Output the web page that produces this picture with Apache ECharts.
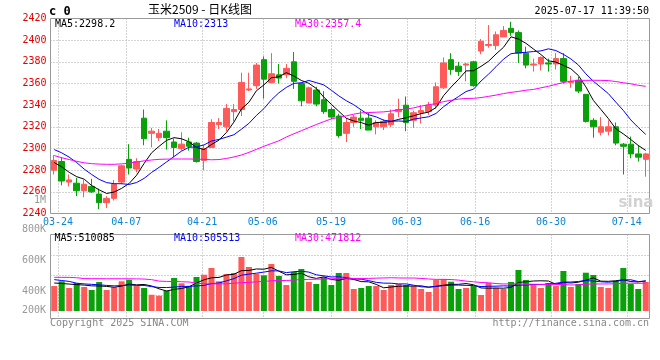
<!DOCTYPE html>
<html><head><meta charset="utf-8">
<script src="https://cdn.jsdelivr.net/npm/echarts@6/dist/echarts.min.js"></script>
<style>html,body{margin:0;padding:0;background:#fff}#c{width:660px;height:360px}</style>
</head><body><div id="c"></div>
<script>
// ---------- DATA ----------
const dates = [
'03-21','03-24','03-25','03-26','03-27','03-28','03-31','04-01','04-02','04-03',
'04-07','04-08','04-09','04-10','04-11','04-14','04-15','04-16','04-17','04-18',
'04-21','04-22','04-23','04-24','04-25','04-28','04-29','04-30','05-06','05-07',
'05-08','05-09','05-12','05-13','05-14','05-15','05-16','05-19','05-20','05-21',
'05-22','05-23','05-26','05-27','05-28','05-29','05-30','06-03','06-04','06-05',
'06-06','06-09','06-10','06-11','06-12','06-13','06-16','06-17','06-18','06-19',
'06-20','06-23','06-24','06-25','06-26','06-27','06-30','07-01','07-02','07-03',
'07-04','07-07','07-08','07-09','07-10','07-11','07-14','07-15','07-16','07-17'];
const labeledDates = ['03-24','04-07','04-21','05-06','05-19','06-03','06-16','06-30','07-14'];

const opens = [
2280,2288,2269,2268,2261,2265,2258,2250,2254,2269,
2290,2281,2328,2314,2310,2316,2306,2300,2306,2305,
2289,2301,2322,2320,2334,2336,2354,2358,2382,2361,
2368,2368,2380,2360,2342,2354,2345,2336,2330,2314,
2324,2328,2328,2320,2320,2322,2334,2340,2326,2333,
2334,2340,2356,2382,2376,2377,2380,2390,2395,2395,
2403,2411,2407,2388,2377,2378,2379,2378,2383,2361,
2363,2350,2326,2315,2316,2320,2304,2304,2295,2290];
const closes = [
2289,2270,2271,2261,2267,2260,2250,2254,2267,2284,
2282,2288,2309,2316,2314,2310,2301,2304,2302,2288,
2300,2324,2324,2337,2336,2361,2355,2377,2364,2369,
2365,2374,2362,2344,2356,2341,2334,2329,2312,2324,
2329,2326,2317,2324,2325,2332,2336,2324,2333,2335,
2340,2357,2379,2373,2371,2378,2358,2399,2396,2405,
2409,2407,2388,2377,2378,2384,2378,2383,2362,2362,
2353,2325,2320,2320,2320,2305,2302,2295,2292,2295];
const lows = [
2276,2266,2265,2256,2255,2259,2244,2245,2252,2267,
2276,2278,2303,2301,2307,2299,2292,2298,2298,2287,
2280,2301,2318,2316,2325,2330,2353,2355,2346,2360,
2360,2365,2355,2339,2342,2339,2332,2327,2310,2306,
2320,2318,2317,2313,2317,2320,2329,2316,2319,2323,
2331,2337,2355,2368,2367,2362,2357,2387,2393,2391,
2403,2404,2379,2374,2371,2372,2371,2373,2360,2356,
2351,2324,2310,2312,2312,2303,2276,2291,2288,2274];
const highs = [
2294,2292,2276,2273,2271,2272,2263,2256,2271,2285,
2304,2291,2336,2319,2318,2326,2309,2315,2310,2306,
2303,2327,2328,2341,2341,2370,2370,2379,2385,2388,
2378,2378,2389,2361,2357,2357,2353,2338,2332,2328,
2331,2335,2333,2326,2327,2336,2346,2348,2335,2340,
2343,2361,2384,2388,2380,2379,2381,2401,2414,2408,
2413,2417,2409,2394,2383,2385,2383,2388,2388,2367,
2366,2350,2328,2329,2326,2324,2305,2311,2303,2296];

const ma5 = [
2287,2283,2278,2274,2271.7,2265.8,2261.8,2258.5,2259.8,2263.2,
2267.7,2275.3,2286.2,2296.0,2302.0,2307.5,2310.0,2309.0,2306.2,2300.9,
2299.0,2303.7,2307.7,2314.8,2324.4,2336.5,2342.7,2353.3,2358.7,2365.3,
2366.2,2370.0,2366.9,2362.8,2360.2,2355.4,2347.4,2340.8,2334.4,2327.9,
2325.4,2323.9,2321.5,2324.0,2324.2,2324.9,2326.9,2328.4,2330.2,2332.2,
2333.6,2337.8,2348.8,2356.7,2363.8,2371.6,2371.8,2375.8,2380.5,2387.2,
2393.4,2403.1,2401.0,2397.1,2391.8,2386.7,2380.9,2379.8,2376.7,2373.6,
2367.4,2356.9,2344.4,2336.1,2327.7,2318.2,2313.5,2308.3,2302.8,2298.2];
const ma10 = [
2299,2296,2292,2287,2281,2276,2271.5,2268.5,2267.5,2267.5,
2266.8,2268.6,2272.4,2277.9,2282.6,2287.6,2292.6,2297.6,2301.1,2301.5,
2303.3,2306.9,2308.4,2310.5,2312.7,2317.8,2323.2,2330.5,2336.8,2344.9,
2351.4,2356.4,2360.1,2360.7,2362.8,2360.8,2358.7,2353.8,2348.6,2344.1,
2340.4,2335.6,2331.1,2329.2,2326.1,2325.2,2325.4,2325.0,2327.1,2328.2,
2329.3,2332.4,2338.6,2343.5,2348.0,2352.6,2354.8,2362.3,2368.6,2375.5,
2382.5,2387.5,2388.4,2388.8,2389.5,2390.1,2392.0,2390.4,2386.9,2382.7,
2377.1,2368.9,2362.1,2356.4,2350.7,2342.8,2335.2,2326.4,2319.4,2313];
const ma30 = [
2293.5,2291.5,2289.8,2288.2,2286.8,2286.0,2285.6,2285.4,2285.4,2285.8,
2286.5,2287.5,2288.6,2289.4,2290.0,2290.2,2290.3,2290.3,2290.3,2290.2,
2290.0,2289.6,2289.8,2290.8,2292.2,2294.0,2296.4,2299.2,2302.0,2304.6,
2307.1,2310.6,2313.6,2316.4,2319.3,2322.1,2324.8,2327.3,2328.8,2330.1,
2331.7,2332.9,2333.2,2333.5,2333.8,2334.6,2335.8,2336.4,2337.5,2339.1,
2340.4,2341.4,2343.3,2344.5,2345.6,2346.2,2346.3,2347.0,2348.1,2349.3,
2350.7,2351.8,2352.7,2353.8,2354.5,2356.0,2357.4,2359.2,2360.9,2362.1,
2362.9,2362.9,2363.0,2362.9,2362.7,2361.8,2360.7,2359.7,2358.3,2357.4];

const volumes = [
422000,502000,389000,473000,406000,355000,490000,355000,401000,502000,
529000,422000,389000,275000,259000,343000,558000,468000,422000,575000,
613000,727000,502000,625000,642000,913000,744000,630000,603000,794000,
592000,439000,659000,710000,490000,456000,570000,439000,642000,642000,
372000,389000,422000,422000,355000,439000,456000,439000,422000,372000,
321000,524000,541000,495000,372000,389000,422000,270000,473000,389000,
372000,490000,693000,524000,456000,389000,473000,422000,676000,406000,
456000,647000,608000,406000,389000,507000,727000,456000,372000,490000];
const volMa5 = [
473000,465000,455000,445000,438400,425000,422600,415800,401400,420600,
455400,441800,448600,423400,374800,337600,364800,380600,410000,473200,
527200,561000,567800,608400,621800,681800,685200,710800,706400,736800,
672600,611600,617400,638800,578000,550800,577000,533000,519400,549800,
533000,496800,493400,449400,392000,405400,418800,422200,422200,425600,
402000,415600,436000,450600,450600,464200,443800,389600,385200,388600,
385200,398800,483400,493600,507000,510400,507000,452800,483200,473200,
486600,521400,558600,504600,501200,511400,527400,497000,490200,510085];
const volMa10 = [
530000,515000,500000,470000,458000,450000,443000,432000,425000,429500,
440200,432200,432200,412400,397700,396500,403300,414600,416700,424000,
432400,462900,474200,509200,547500,604500,623100,639300,657400,679300,
677200,648400,664100,672600,657400,611700,594300,575200,579100,563900,
541900,536900,513200,484400,470900,469200,457800,457800,435800,408800,
403700,417200,429100,436400,438100,433100,429700,412800,417900,419600,
424700,421300,436500,439400,447800,447800,452900,468100,488400,490100,
498500,514200,505700,493900,487200,499000,524400,527800,497400,505513];
const volMa30 = [
569000,569000,568000,562000,548000,546000,546000,545000,545000,545000,
544000,543000,540000,530000,505000,500000,498000,495000,490000,470000,
460000,458000,458000,460000,470000,478000,485000,492000,500000,510900,
516600,514500,523500,531400,534200,537600,540200,543000,551100,555700,
550500,549400,550500,555400,558600,561800,558400,557400,557400,550700,
540900,534200,535500,531100,522100,504700,493900,481900,477600,464100,
456800,458500,459600,453400,452300,450000,446800,446200,447400,439500,
442300,450900,457100,456600,457700,460000,469000,469600,467900,471812];

const volTickLabels = ['1M','800K','600K','400K','200K'];
const titleText = '玉米2509 - 日K线图';
const codeText = 'c 0';
const timeText = '2025-07-17 11:39:50';

// ---------- STYLE / LAYOUT ----------
const MONO = '"DejaVu Sans Mono","Liberation Mono",monospace';
const RED = '#ff5a5a', GREEN = '#0aa00a';
const GRIDC = '#aaaaaa', BORDER = '#999999';
const DOT = [1, 2];
const volTickY = [200, 229.3, 260.2, 291.2, 310.7];

function txt(x, y, text, fill, align, size, weight, family, extra) {
  return Object.assign({
    type: 'text', x: x, y: y, silent: true, z: 100,
    style: {
      text: text, fill: fill, align: align, verticalAlign: 'middle',
      font: (weight || 'normal') + ' ' + size + 'px ' + (family || MONO)
    }
  }, extra || {});
}

const showDate = (i, v) => labeledDates.indexOf(v) >= 0;
const last = a => a[a.length - 1];

const graphics = [
  txt(49, 11.5, codeText, '#000', 'left', 12, 'bold'),
  txt(200, 9, titleText, '#000', 'center', 12, 'normal', '"Noto Sans CJK SC",sans-serif'),
  txt(649, 11.5, timeText, '#000', 'right', 10),
  txt(55, 24, 'MA5:' + last(ma5), '#000', 'left', 10),
  txt(174, 24, 'MA10:' + last(ma10), '#0000ff', 'left', 10),
  txt(295, 24, 'MA30:' + last(ma30), '#ff00ff', 'left', 10),
  txt(54.5, 238.5, 'MA5:' + last(volMa5), '#000', 'left', 10),
  txt(174, 238.5, 'MA10:' + last(volMa10), '#0000ff', 'left', 10),
  txt(295, 238.5, 'MA30:' + last(volMa30), '#ff00ff', 'left', 10),
  txt(50, 323, 'Copyright 2025 SINA.COM', '#888', 'left', 10),
  txt(649, 323.5, 'http://finance.sina.com.cn', '#888', 'right', 10),
  txt(636, 203, 'sina', '#d2d2d2', 'center', 15, 'bold', '"DejaVu Sans",sans-serif', {z: 1}),
];
volTickLabels.forEach((t, k) => graphics.push(txt(46, volTickY[k], t, '#999', 'right', 10)));

const chart = echarts.init(document.getElementById('c'), null, {renderer: 'canvas'});
const candleData = dates.map((d, i) => [opens[i], closes[i], lows[i], highs[i]]);
const volData = volumes.map((v, i) => ({value: v, itemStyle: {color: closes[i] >= opens[i] ? RED : GREEN}}));

function maLine(name, data, color, xi, yi) {
  return {name: name, type: 'line', data: data, xAxisIndex: xi, yAxisIndex: yi,
    symbol: 'none', smooth: false, lineStyle: {color: color, width: 1}, z: 5, silent: true};
}

const VOL_PX = 16900; // volume units per pixel
chart.setOption({
  animation: false,
  backgroundColor: '#fff',
  grid: [
    {left: 50.5, top: 18.5, width: 599, height: 195, show: true, borderColor: BORDER, borderWidth: 1, backgroundColor: 'transparent'},
    {left: 50.5, top: 234.5, width: 599, height: 81.2},
    {left: 50.5, top: 234.5, width: 599, height: 84, show: true, borderColor: BORDER, borderWidth: 1, backgroundColor: 'transparent'}
  ],
  xAxis: [
    {type: 'category', gridIndex: 0, data: dates, boundaryGap: true, show: false},
    {type: 'category', gridIndex: 0, data: dates, boundaryGap: false, position: 'bottom',
      axisLine: {show: false}, axisTick: {show: false},
      axisLabel: {interval: showDate, color: '#0a86d6', fontFamily: MONO, fontSize: 10, margin: 4},
      splitLine: {show: true, interval: showDate, lineStyle: {type: DOT, color: GRIDC, width: 1}}},
    {type: 'category', gridIndex: 1, data: dates, boundaryGap: true, show: false},
    {type: 'category', gridIndex: 2, data: dates, boundaryGap: false,
      axisLine: {show: false}, axisTick: {show: false}, axisLabel: {show: false},
      splitLine: {show: true, interval: showDate, lineStyle: {type: DOT, color: GRIDC, width: 1}}}
  ],
  yAxis: [
    {type: 'value', gridIndex: 0, min: 2240, max: 2420, interval: 20, scale: true,
      axisLine: {show: false}, axisTick: {show: false},
      axisLabel: {color: '#e60000', fontFamily: MONO, fontSize: 10, margin: 4, padding: [0, 0, 3, 0],
        formatter: v => String(v)},
      splitLine: {show: true, showMinLine: false, showMaxLine: false, lineStyle: {type: DOT, color: GRIDC, width: 1}}},
    {type: 'value', gridIndex: 1, min: -4.7 * VOL_PX, max: 76.5 * VOL_PX, show: false, splitLine: {show: false}},
    {type: 'value', gridIndex: 1, inverse: true, min: 0, max: 81.2, interval: 20.3,
      axisLine: {show: false}, axisTick: {show: false}, axisLabel: {show: false},
      splitLine: {show: true, showMinLine: false, showMaxLine: false, lineStyle: {type: DOT, color: GRIDC, width: 1}}},
    {type: 'value', gridIndex: 2, show: false, splitLine: {show: false}}
  ],
  series: [
    {type: 'candlestick', xAxisIndex: 0, yAxisIndex: 0, data: candleData, barWidth: 6, silent: true,
      itemStyle: {color: RED, color0: GREEN, borderColor: RED, borderColor0: GREEN, borderWidth: 1}},
    maLine('MA5', ma5, '#000000', 0, 0),
    maLine('MA10', ma10, '#0000ff', 0, 0),
    maLine('MA30', ma30, '#ff00ff', 0, 0),
    {type: 'bar', xAxisIndex: 2, yAxisIndex: 1, data: volData, barWidth: 6, silent: true},
    maLine('VMA5', volMa5, '#000000', 2, 1),
    maLine('VMA10', volMa10, '#0000ff', 2, 1),
    maLine('VMA30', volMa30, '#ff00ff', 2, 1)
  ],
  graphic: graphics
});
</script>
</body></html>
